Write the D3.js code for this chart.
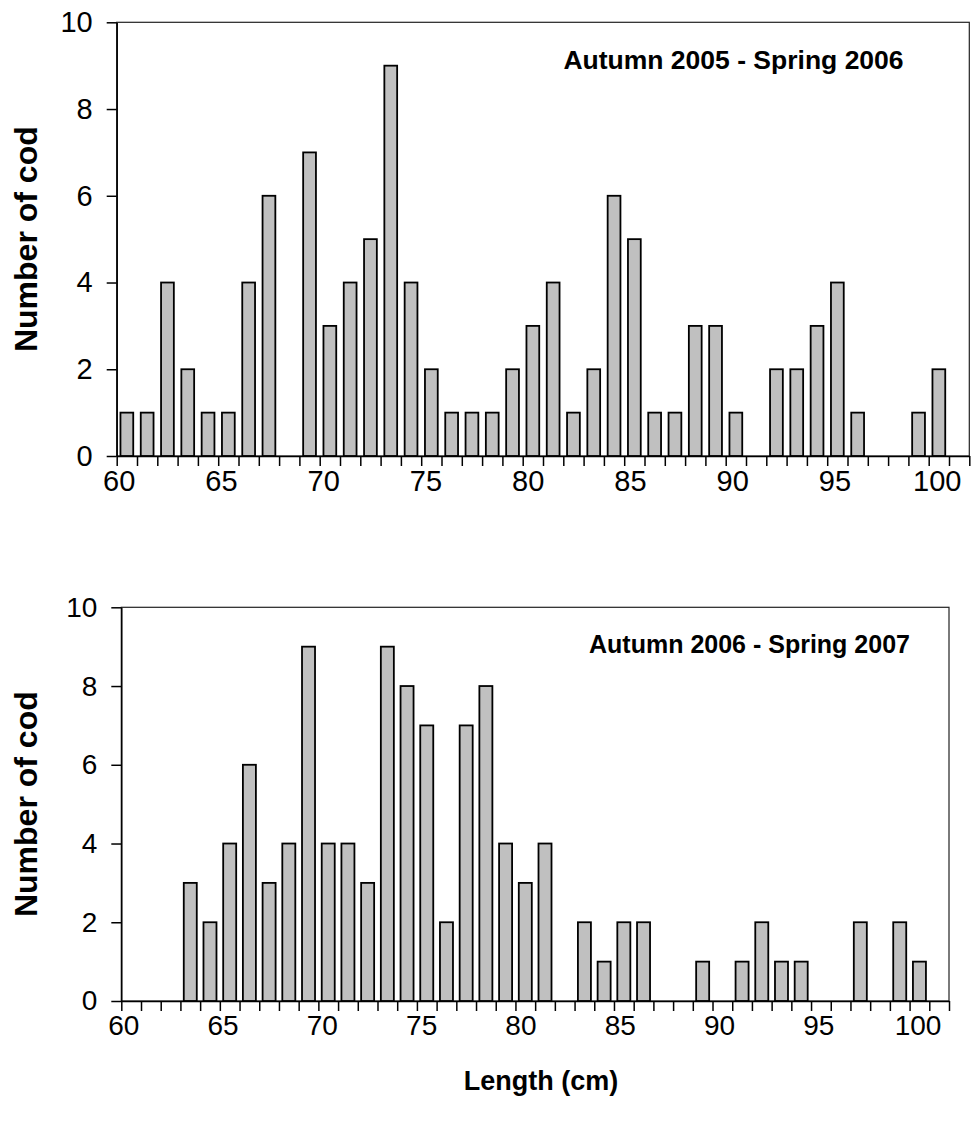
<!DOCTYPE html>
<html>
<head>
<meta charset="utf-8">
<script src="https://cdn.jsdelivr.net/npm/d3@7"></script>
<style>
  body { margin: 0; background: #fff; }
  svg { display: block; }
  text { font-family: Arial, "Liberation Sans", sans-serif; fill: #000; }
</style>
</head>
<body>
<svg id="drawing_region"></svg>
<script>
// length classes (cm)
const lengths = [60, 61, 62, 63, 64, 65, 66, 67, 68, 69, 70, 71, 72, 73, 74, 75, 76, 77, 78, 79, 80,
                 81, 82, 83, 84, 85, 86, 87, 88, 89, 90, 91, 92, 93, 94, 95, 96, 97, 98, 99, 100, 101];

// number of cod per length class
const cod2005 = [1, 1, 4, 2, 1, 1, 4, 6, 0, 7, 3, 4, 5, 9, 4, 2, 1, 1, 1, 2, 3,
                 4, 1, 2, 6, 5, 1, 1, 3, 3, 1, 0, 2, 2, 3, 4, 1, 0, 0, 1, 2, 0];
const cod2006 = [0, 0, 0, 3, 2, 4, 6, 3, 4, 9, 4, 4, 3, 9, 8, 7, 2, 7, 8, 4, 3,
                 4, 0, 2, 1, 2, 2, 0, 0, 1, 0, 1, 2, 1, 1, 0, 0, 2, 0, 2, 1, 0];

const xLabels = [60, 65, 70, 75, 80, 85, 90, 95, 100];
const yTicks = [0, 2, 4, 6, 8, 10];
const periods = ["Autumn 2005 - Spring 2006", "Autumn 2006 - Spring 2007"];

const svg = d3.select('#drawing_region')
    .attr('width', 971)
    .attr('height', 1124);

svg.append('rect').attr('width', 971).attr('height', 1124).attr('fill', '#fff');

function drawPanel( cfg, values, label ) {
    const g = svg.append('g');

    const xband = d3.scaleBand()
        .domain( lengths )
        .range( [cfg.x0, cfg.x1] )
        .paddingInner( cfg.pad )
        .paddingOuter( cfg.pad / 2 );

    // boundaries between length classes
    const xb = d3.scaleLinear()
        .domain( [lengths[0], lengths[lengths.length - 1] + 1] )
        .range( [cfg.x0, cfg.x1] );

    const xlab = d3.scaleLinear()
        .domain( [60, 100] )
        .range( [xb(60) + 2, xb(100) + 8] );

    const y = d3.scaleLinear()
        .domain( [0, 10] )
        .range( [cfg.y1, cfg.y0] );

    // plot frame
    g.append('rect')
        .attr('x', cfg.x0).attr('y', cfg.y0)
        .attr('width', cfg.x1 - cfg.x0).attr('height', cfg.y1 - cfg.y0)
        .attr('fill', 'none')
        .attr('stroke', '#222')
        .attr('stroke-width', 1.2);

    // bars
    g.selectAll('rect.bar')
        .data( lengths.map( (l, i) => ({ l: l, v: values[i] }) ).filter( d => d.v > 0 ) )
        .enter()
        .append('rect')
        .attr('class', 'bar')
        .attr('x', d => xband(d.l))
        .attr('y', d => y(d.v))
        .attr('width', xband.bandwidth())
        .attr('height', d => y(0) - y(d.v))
        .attr('fill', '#c0c0c0')
        .attr('stroke', '#000')
        .attr('stroke-width', 1.8);

    // y axis
    const yaxis = d3.axisLeft( y )
        .tickValues( yTicks )
        .tickSize( 10 )
        .tickSizeOuter( 0 )
        .tickPadding( 14 );
    const yg = g.append('g')
        .attr('transform', `translate(${cfg.x0}, 0)`)
        .call( yaxis );
    yg.selectAll('text').style('font-size', cfg.tickFont + 'px').attr('fill', '#000');
    yg.selectAll('line, path').attr('stroke', '#000').attr('stroke-width', 1.5);

    // x tick marks between classes
    const xaxis = d3.axisBottom( xb )
        .tickValues( d3.range( lengths[0], lengths[lengths.length - 1] + 2 ) )
        .tickSize( 10 )
        .tickSizeOuter( 0 )
        .tickFormat( '' );
    const xg = g.append('g')
        .attr('transform', `translate(0, ${cfg.y1})`)
        .call( xaxis );
    xg.selectAll('line, path').attr('stroke', '#000').attr('stroke-width', 1.5);

    // x labels
    const xlaxis = d3.axisBottom( xlab )
        .tickValues( xLabels )
        .tickSize( 0 )
        .tickPadding( 14 );
    const xlg = g.append('g')
        .attr('transform', `translate(0, ${cfg.y1})`)
        .call( xlaxis );
    xlg.select('.domain').remove();
    xlg.selectAll('text').style('font-size', cfg.tickFont + 'px').attr('fill', '#000');

    // y title
    g.append('text')
        .attr('transform', `translate(37, ${(cfg.y0 + cfg.y1) / 2}) rotate(-90)`)
        .attr('text-anchor', 'middle')
        .style('font-size', '32px')
        .style('font-weight', 'bold')
        .text('Number of cod');

    // period label
    g.append('text')
        .attr('x', cfg.annX)
        .attr('y', cfg.annY)
        .attr('text-anchor', 'middle')
        .style('font-size', cfg.annFont + 'px')
        .style('font-weight', 'bold')
        .text( label );
}

drawPanel( {x0: 116.7, x1: 969.3, y0: 22.3, y1: 456, pad: 0.37, tickFont: 29,
            annX: 733.5, annY: 69.3, annFont: 26.5}, cod2005, periods[0] );
drawPanel( {x0: 121.3, x1: 949, y0: 607.3, y1: 1001, pad: 0.34, tickFont: 28,
            annX: 749.5, annY: 652.7, annFont: 25}, cod2006, periods[1] );

svg.append('text')
    .attr('x', 541)
    .attr('y', 1090)
    .attr('text-anchor', 'middle')
    .style('font-size', '27px')
    .style('font-weight', 'bold')
    .text('Length (cm)');
</script>
</body>
</html>
